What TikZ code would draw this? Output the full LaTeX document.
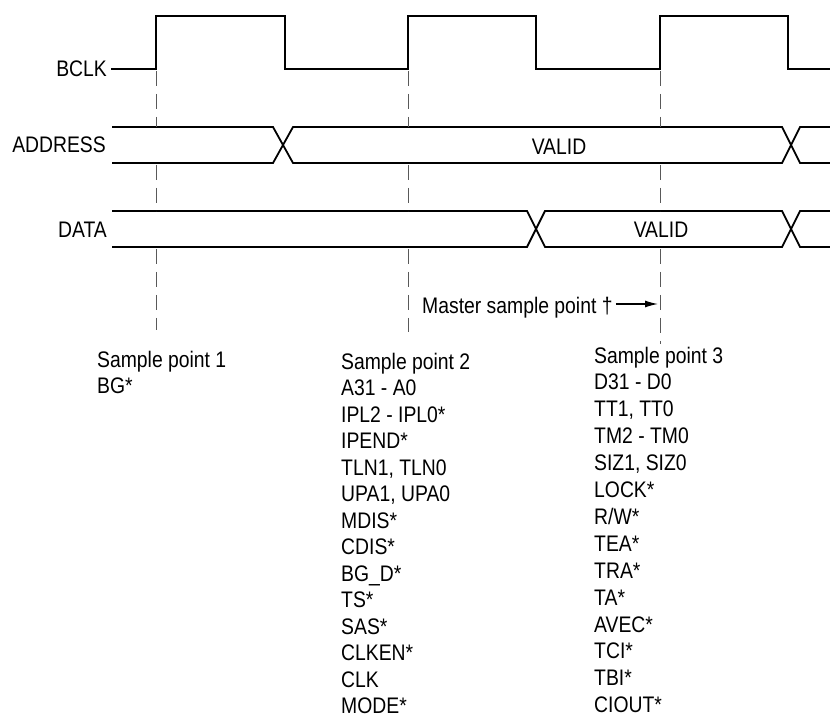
\documentclass[tikz,border=0pt]{standalone}
\usepackage{fontspec}
\setmainfont{Liberation Sans}[FakeStretch=0.86]
\usetikzlibrary{arrows.meta}

\begin{document}
\begin{tikzpicture}[x=1pt,y=-1pt,
  font=\fontsize{22.5}{27}\selectfont,
  sig/.style={line width=1.8pt,line join=miter},
  smp/.style={line width=1pt,black!65,dash pattern=on 15pt off 8pt},
  lbl/.style={inner sep=0pt,anchor=base west},
  nm/.style={inner sep=0pt,anchor=base east},
  a/.style={-{Latex[length=13pt,width=7pt]},line width=1.2pt}]
\useasboundingbox (0,0) rectangle (830,719);
% signal names
\node[nm] (bclk) at (107,77) {BCLK};
\node[nm] (addr) at (106,153) {ADDRESS};
\node[nm] (data) at (107,238) {DATA};
% clock
\draw[sig] (111,69) foreach \r/\f in {156/285,408/536,660/788}
  {-- (\r,69) -- (\r,16) -- (\f,16) -- (\f,69)} -- (830,69);
% address bus
\draw[sig] (112,127) -- (273,127) -- (293,163) -- (782,163) -- (800,127) -- (830,127);
\draw[sig] (112,163) -- (273,163) -- (293,127) -- (782,127) -- (800,163) -- (830,163);
\node[inner sep=0pt,anchor=base] (aval) at (559,155) {VALID};
% data bus
\draw[sig] (112,211) -- (527,211) -- (545,247) -- (782,247) -- (800,211) -- (830,211);
\draw[sig] (112,247) -- (527,247) -- (545,211) -- (782,211) -- (800,247) -- (830,247);
\node[inner sep=0pt,anchor=base] (dval) at (661,238) {VALID};
% sample points
\foreach \x/\e in {156/330,408/332,660/344}
  \draw[smp] (\x,71) -- (\x,127) (\x,165) -- (\x,211) (\x,249) -- (\x,\e);
\node[lbl] (mst) at (422,313) {Master sample point †};
\coordinate (sp3) at (660,304);
\draw[a] ([xshift=3pt]mst.east |- sp3) -- ([xshift=-2pt]sp3);
% sampled signals
\foreach \t [count=\i from 0] in {Sample point 1,BG*}
  \node[lbl] (s1-\i) at (97,{367+26.6*\i}) {\t};
\foreach \t [count=\i from 0] in {Sample point 2,A31 - A0,IPL2 - IPL0*,IPEND*,
    {TLN1, TLN0},{UPA1, UPA0},MDIS*,CDIS*,BG\_D*,TS*,SAS*,CLKEN*,CLK,MODE*}
  \node[lbl] (s2-\i) at (341,{369+26.5*\i}) {\t};
\foreach \t [count=\i from 0] in {Sample point 3,D31 - D0,{TT1, TT0},TM2 - TM0,
    {SIZ1, SIZ0},LOCK*,R/W*,TEA*,TRA*,TA*,AVEC*,TCI*,TBI*,CIOUT*}
  \node[lbl] (s3-\i) at (594,{363+26.9*\i}) {\t};
\end{tikzpicture}
\end{document}
